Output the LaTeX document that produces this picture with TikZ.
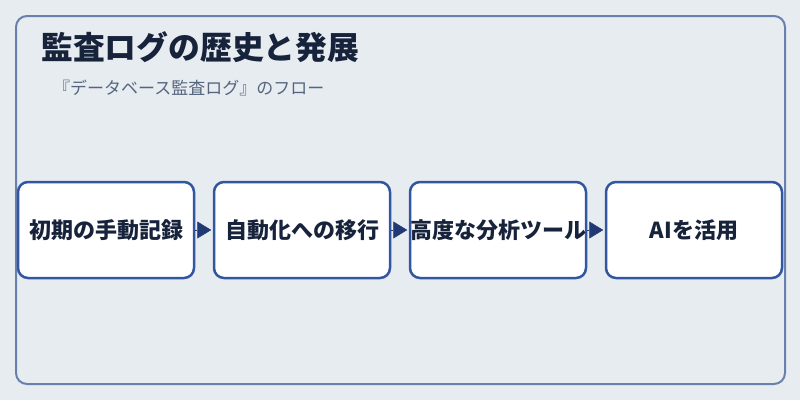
\documentclass[tikz,border=0pt]{standalone}
\usepackage{fontspec}
\setmainfont{Noto Sans CJK JP}
\usetikzlibrary{arrows.meta}
\definecolor{bgc}{HTML}{E7ECF1}
\definecolor{framec}{HTML}{6A80AC}
\definecolor{boxc}{HTML}{3356A0}
\definecolor{titlec}{HTML}{17223B}
\definecolor{subc}{HTML}{55657E}
\definecolor{arrowc}{HTML}{213A74}
\tikzset{
  stagebox/.style={draw=boxc, line width=2.5pt, fill=white, rounded corners=10pt,
    minimum width=176pt, minimum height=96pt, inner sep=0pt,
    font=\fontsize{22}{26}\selectfont\bfseries, text=titlec},
  flowarrow/.style={arrowc, line width=0.5pt, -{Triangle[length=14pt,width=17pt]}, shorten >=1.5pt},
}
\newcommand{\lowered}[1]{\raisebox{-2pt}{#1}}
\begin{document}
\begin{tikzpicture}[x=1pt,y=-1pt]
\useasboundingbox[fill=bgc] (0,0) rectangle (800,400);
\draw[framec, line width=2pt, rounded corners=11pt] (16,16) rectangle (785,384);
\node[anchor=west, inner sep=0pt, font=\fontsize{31.8}{36}\selectfont\bfseries, text=titlec] (title) at (41,47) {監査ログの歴史と発展};
\node[anchor=west, inner sep=0pt, font=\fontsize{17}{21}\selectfont, text=subc] (sub) at (53,88) {『データベース監査ログ』のフロー};
\node[stagebox] (s1) at (106,230) {\lowered{初期の手動記録}};
\node[stagebox] (s2) at (302,230) {\lowered{自動化への移行}};
\node[stagebox] (s3) at (498,230) {\lowered{高度な分析ツール}};
\node[stagebox] (s4) at (694,230) {\lowered{AIを活用}};
\draw[flowarrow] (s1) -- (s2);
\draw[flowarrow] (s2) -- (s3);
\draw[flowarrow] (s3) -- (s4);
\end{tikzpicture}
\end{document}
